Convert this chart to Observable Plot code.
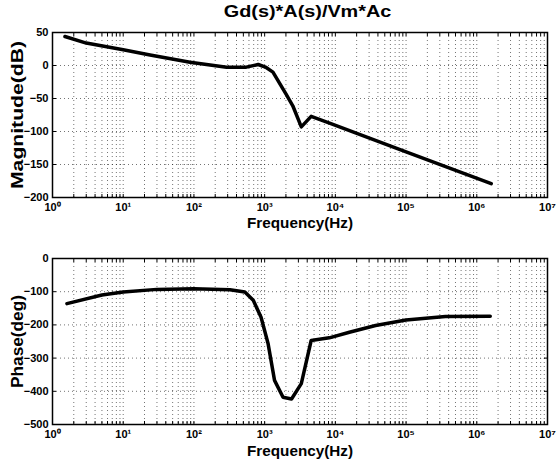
<!DOCTYPE html>
<html>
<head>
<meta charset="utf-8">
<script src="https://cdn.jsdelivr.net/npm/d3@7"></script>
<script src="https://cdn.jsdelivr.net/npm/@observablehq/plot@0.6"></script>
<style>
  body { margin: 0; background: #fff; font-family: "Liberation Sans", Arial, sans-serif; }
  #wrap { width: 558px; }
  #title { height: 24px; line-height: 24px; text-align: center; font-weight: bold; font-size: 16px; color: #000; padding-left: 58px; }
  #title span { display: inline-block; transform: scaleX(1.24); }
  svg { display: block; }
</style>
</head>
<body>
<div id="wrap">
  <div id="title"><span>Gd(s)*A(s)/Vm*Ac</span></div>
  <div id="mag"></div>
  <div id="phase"></div>
</div>
<script>
// ---- data ----
const titleText = "Gd(s)*A(s)/Vm*Ac";
const xLabel = "Frequency(Hz)";
const magLabel = "Magnitude(dB)";
const phaseLabel = "Phase(deg)";

const magFreq = [1.5, 3, 10, 24, 88, 290, 550, 810, 1050, 1310, 2000, 2500, 3300, 4550, 8100, 1e5, 1.6e6];
const magDb   = [44, 34, 24, 16, 5, -2.5, -2.5, 1.5, -3, -10, -43, -61, -93, -77, -87, -131, -179];

const phaseFreq = [1.6, 5, 10, 30, 100, 323, 525, 690, 890, 1120, 1380, 1820, 2400, 3300, 4550, 8200, 15800, 37000, 1e5, 3.6e5, 1.55e6];
const phaseDeg  = [-136, -110, -101, -93, -91, -94, -101, -126, -177, -257, -367, -418, -423, -377, -247, -239, -222, -202, -185, -175, -174];

const xMajorTicks = [1, 10, 100, 1e3, 1e4, 1e5, 1e6, 1e7];
const xTickLabels = ["10\u2070", "10\u00b9", "10\u00b2", "10\u00b3", "10\u2074", "10\u2075", "10\u2076", "10\u2077"];
const magTicks = [50, 0, -50, -100, -150, -200];
const phaseTicks = [0, -100, -200, -300, -400, -500];

// minor grid positions (2..9 x each decade)
const xMinorTicks = [];
for (let k = 0; k < 7; k++) for (let m = 2; m <= 9; m++) xMinorTicks.push(m * Math.pow(10, k));
const xAllTicks = xMajorTicks.concat(xMinorTicks);

const magData = magFreq.map((f, i) => ({f, v: magDb[i]}));
const phaseData = phaseFreq.map((f, i) => ({f, v: phaseDeg[i]}));

const fmtX = d => xTickLabels[xMajorTicks.indexOf(d)] ?? "";

function makePlot(data, yDomain, yTicks, yLab, height, mTop, mBottom, xlDy) {
  const grid = {stroke: "#000", strokeOpacity: 0.55, strokeDasharray: "1,3", strokeWidth: 1};
  return Plot.plot({
    width: 558,
    height,
    marginLeft: 52,
    marginRight: 11,
    marginTop: mTop,
    marginBottom: mBottom,
    style: {fontFamily: "'Liberation Sans', Arial, sans-serif", fontWeight: "bold", fontSize: "11px", color: "#000", background: "#fff", overflow: "visible"},
    x: {type: "log", domain: [1, 1e7]},
    y: {domain: yDomain},
    marks: [
      Plot.gridX(xAllTicks, grid),
      Plot.gridY(yTicks, grid),
      Plot.axisX(xMajorTicks, {anchor: "bottom", tickSize: 0, tickPadding: 6, tickFormat: fmtX, label: null, fontSize: 11}),
      Plot.axisY(yTicks, {anchor: "left", tickSize: 0, tickPadding: 4, label: null, fontSize: 11}),
      Plot.axisX(xAllTicks, {anchor: "bottom", tickSize: -3, tickFormat: () => "", label: null}),
      Plot.axisX(xAllTicks, {anchor: "top", tickSize: -3, tickFormat: () => "", label: null}),
      Plot.axisY(yTicks, {anchor: "left", tickSize: -4, tickFormat: () => "", label: null}),
      Plot.axisY(yTicks, {anchor: "right", tickSize: -4, tickFormat: () => "", label: null}),
      Plot.frame({stroke: "#000", strokeWidth: 1.5}),
      Plot.line(data, {x: "f", y: "v", stroke: "#000", strokeWidth: 3.5, strokeLinejoin: "round"}),
      Plot.text([xLabel], {frameAnchor: "bottom", dy: xlDy, text: d => d, fontSize: 15, fontWeight: "bold", textAnchor: "middle", lineAnchor: "middle"}),
      Plot.text([yLab], {frameAnchor: "left", dx: -35, rotate: -90, text: d => d, fontSize: 16, fontWeight: "bold", textAnchor: "middle", lineAnchor: "middle"})
    ]
  });
}

// stretch a text along its own direction to the length seen in the reference, keeping its centre
function stretch(svg, txt, len) {
  d3.select(svg).selectAll("text").filter(function () { return this.textContent === txt; })
    .each(function () {
      const el = this;
      el.setAttribute("text-anchor", "middle");
      const natural = el.getComputedTextLength();
      const s = len / natural;
      const tr = el.getAttribute("transform");
      if (tr) {
        el.setAttribute("transform", tr + ` scale(${s},1)`);
      } else {
        const x = +(el.getAttribute("x") || 0), y = +(el.getAttribute("y") || 0);
        el.setAttribute("x", 0); el.setAttribute("y", 0);
        el.setAttribute("transform", `translate(${x},${y}) scale(${s},1)`);
      }
    });
}

const p1 = makePlot(magData, [-200, 50], magTicks, magLabel, 210, 8, 37, 26);
document.getElementById("mag").appendChild(p1);
stretch(p1, xLabel, 106);
stretch(p1, magLabel, 148);

const p2 = makePlot(phaseData, [-500, 0], phaseTicks, phaseLabel, 230, 24, 40, 27);
document.getElementById("phase").appendChild(p2);
stretch(p2, xLabel, 106);
stretch(p2, phaseLabel, 93);
</script>
</body>
</html>
